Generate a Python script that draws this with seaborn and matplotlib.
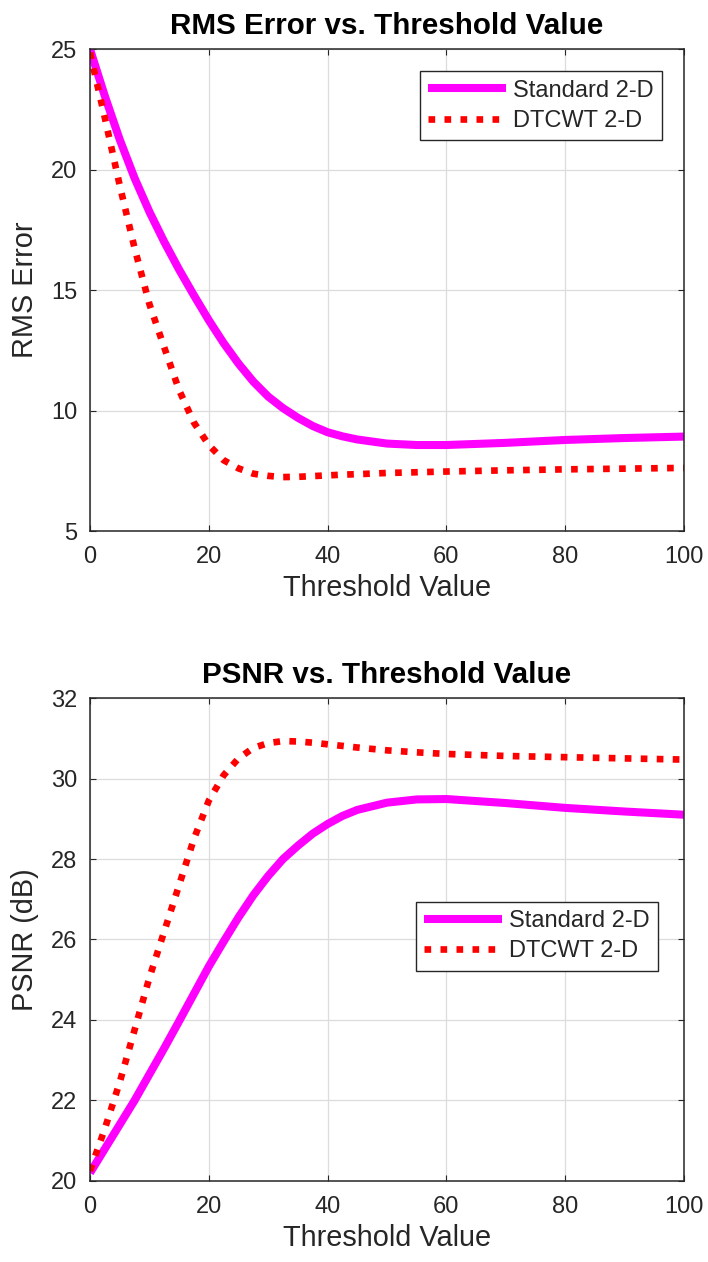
import numpy as np
import pandas as pd
import matplotlib
matplotlib.use("Agg")
import matplotlib.pyplot as plt
import seaborn as sns

# ---- data ----
threshold = [0, 2.5, 5, 7.5, 10, 12.5, 15, 17.5, 20, 22.5, 25, 27.5, 30,
             32.5, 35, 37.5, 40, 42.5, 45, 50, 55, 60, 70, 80, 90, 100]

rms_standard = [25.0, 23.05, 21.25, 19.65, 18.25, 17.0, 15.85, 14.78, 13.75, 12.8, 11.95, 11.2, 10.58,
                10.1, 9.7, 9.36, 9.1, 8.93, 8.8, 8.63, 8.57, 8.57, 8.66, 8.78, 8.86, 8.92]
rms_dtcwt = [24.85, 22.15, 19.35, 16.75, 14.42, 12.62, 10.85, 9.5, 8.57, 7.94, 7.6, 7.38, 7.29,
             7.24, 7.25, 7.28, 7.31, 7.34, 7.36, 7.41, 7.44, 7.47, 7.52, 7.56, 7.59, 7.62]

psnr_standard = [20.2, 20.8, 21.4, 22.0, 22.65, 23.3, 23.97, 24.65, 25.33, 25.95, 26.55, 27.1, 27.58,
                 28.0, 28.33, 28.63, 28.87, 29.07, 29.22, 29.4, 29.48, 29.49, 29.39, 29.27, 29.18, 29.1]
psnr_dtcwt = [20.25, 21.3, 22.45, 23.75, 25.05, 26.2, 27.35, 28.5, 29.45, 30.08, 30.5, 30.76, 30.88,
              30.93, 30.92, 30.89, 30.85, 30.81, 30.77, 30.7, 30.65, 30.61, 30.56, 30.53, 30.5, 30.47]

series_names = ["Standard 2-D", "DTCWT 2-D"]
x_ticks = [0, 20, 40, 60, 80, 100]
rms_ticks = [5, 10, 15, 20, 25]
psnr_ticks = [20, 22, 24, 26, 28, 30, 32]

# ---- style ----
sns.set_theme(style="white")
plt.rcParams["font.family"] = ["Liberation Sans", "DejaVu Sans"]

DARK = "#262626"
MAGENTA = "#ff00ff"
RED = "#ff0000"

fig = plt.figure(figsize=(7.08, 12.62), dpi=100)
ax1 = fig.add_axes([0.1271, 0.5792, 0.839, 0.3819])
ax2 = fig.add_axes([0.1271, 0.0642, 0.839, 0.3827])


def draw(ax, std_vals, dt_vals, title, ylabel, yticks, ylim, leg_anchor):
    df = pd.DataFrame({"x": threshold, "std": std_vals, "dt": dt_vals})
    sns.lineplot(data=df, x="x", y="std", ax=ax, color=MAGENTA, linewidth=5.8,
                 label=series_names[0], solid_capstyle="butt", solid_joinstyle="round")
    sns.lineplot(data=df, x="x", y="dt", ax=ax, color=RED, linewidth=4.8,
                 linestyle=(0, (1, 1.4)), dash_capstyle="butt",
                 label=series_names[1])
    ax.set_xlim(0, 100)
    ax.set_ylim(*ylim)
    ax.set_xticks(x_ticks)
    ax.set_yticks(yticks)
    ax.grid(True, color="#dcdcdc", linewidth=0.9)
    ax.set_axisbelow(True)
    for sp in ax.spines.values():
        sp.set_color(DARK)
        sp.set_linewidth(1.1)
        sp.set_visible(True)
    ax.tick_params(axis="both", direction="in", length=4, width=0.8, color=DARK,
                   labelcolor=DARK, labelsize=17, top=True, right=True,
                   bottom=True, left=True)
    ax.tick_params(axis="x", pad=11)
    ax.tick_params(axis="y", pad=9)
    ax.set_title(title, fontsize=21.3, fontweight="bold", color="black", pad=11)
    ax.set_xlabel("Threshold Value", fontsize=20.8, color=DARK, labelpad=4)
    ax.set_ylabel(ylabel, fontsize=20.8, color=DARK, labelpad=9)
    leg = ax.legend(loc="upper right", bbox_to_anchor=leg_anchor, borderaxespad=0,
                    fontsize=17, frameon=True, fancybox=False, framealpha=1,
                    edgecolor=DARK, handlelength=3.3, handletextpad=0.3,
                    labelspacing=0.35, borderpad=0.35)
    leg.get_frame().set_linewidth(1.0)
    for t in leg.get_texts():
        t.set_color(DARK)


draw(ax1, rms_standard, rms_dtcwt, "RMS Error vs. Threshold Value", "RMS Error",
     rms_ticks, (5, 25), (0.963, 0.954))
draw(ax2, psnr_standard, psnr_dtcwt, "PSNR vs. Threshold Value", "PSNR (dB)",
     psnr_ticks, (20, 32), (0.956, 0.578))

fig.savefig("out.png", dpi=100, facecolor="white")
